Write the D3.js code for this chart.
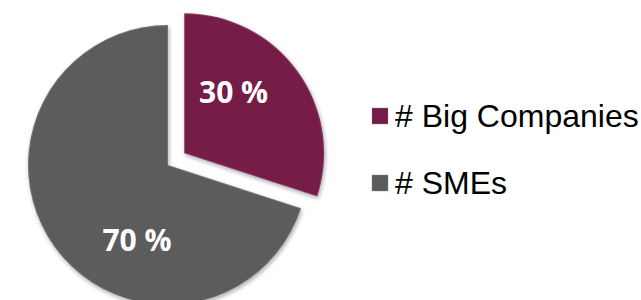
<!DOCTYPE html>
<html>
<head>
<meta charset="utf-8">
<script src="https://d3js.org/d3.v7.min.js"></script>
<style>
body { margin: 0; background: #fff; }
svg { display: block; }
.pct { font-family: 'Open Sans', sans-serif; font-weight: 700; font-size: 30px; fill: #fff; }
.legend text { font-family: 'Liberation Sans', Arial, sans-serif; font-size: 32px; fill: #000; }
</style>
</head>
<body>
<div id="chart"></div>
<script>

var categories = ["# Big Companies", "# SMEs"];
var values = [30, 70];
var labels = ["30 %", "70 %"];
var colors = ["#741c47", "#5b5b5b"];
var explode = [20, 0];

var width = 641;
var height = 300;
var radius = 140;
var cx = 168, cy = 165;

var svg = d3.select("#chart").append("svg")
.attr("width", width).attr("height", height);

var defs = svg.append("defs");
var shadow = defs.append("filter").attr("id", "shadow")
.attr("x", "-10%").attr("y", "-10%").attr("width", "130%").attr("height", "130%");
shadow.append("feGaussianBlur").attr("in", "SourceAlpha").attr("stdDeviation", 2);
shadow.append("feOffset").attr("dx", 1).attr("dy", 2).attr("result", "off");
shadow.append("feComponentTransfer").append("feFuncA").attr("type", "linear").attr("slope", 0.35);
var merge = shadow.append("feMerge");
merge.append("feMergeNode");
merge.append("feMergeNode").attr("in", "SourceGraphic");

var pie = d3.pie().sort(null).value(function (d) { return d; });
var arc = d3.arc().innerRadius(0).outerRadius(radius);
var arcs = pie(values);

var g = svg.append("g").attr("transform", "translate(" + cx + "," + cy + ")");

var slices = g.selectAll("g.slice").data(arcs).enter()
.append("g")
.attr("class", "slice")
.attr("transform", function (d, i) {
	var mid = (d.startAngle + d.endAngle) / 2;
	return "translate(" + (Math.sin(mid) * explode[i]) + "," + (-Math.cos(mid) * explode[i]) + ")";
});

slices.append("path")
.attr("d", arc)
.attr("fill", function (d, i) { return colors[i]; })
.attr("filter", "url(#shadow)");

// light bevel along the edges
slices.append("path")
.attr("d", arc)
.attr("fill", "none")
.attr("stroke", "#fff")
.attr("stroke-opacity", 0.15)
.attr("stroke-width", 2);

// label placed a bit before the middle of each slice
function labelPos(d) {
	var a = d.startAngle + (d.endAngle - d.startAngle) * 0.37;
	return [Math.sin(a) * 80, -Math.cos(a) * 80];
}

slices.append("text")
.attr("class", "pct")
.attr("text-anchor", "middle")
.attr("x", function (d) { return labelPos(d)[0] - 2; })
.attr("y", function (d) { return labelPos(d)[1] + 11; })
.text(function (d, i) { return labels[i]; });

var legend = svg.append("g").attr("class", "legend")
.attr("transform", "translate(372,108)");

var item = legend.selectAll("g").data(categories).enter()
.append("g")
.attr("transform", function (d, i) { return "translate(0," + (i * 67) + ")"; });

item.append("rect")
.attr("width", 16).attr("height", 16)
.attr("fill", function (d, i) { return colors[i]; })
.attr("stroke", "#888").attr("stroke-opacity", 0.4);

item.append("text")
.attr("x", 23).attr("y", 19)
.text(function (d) { return d; });

</script>
</body>
</html>
